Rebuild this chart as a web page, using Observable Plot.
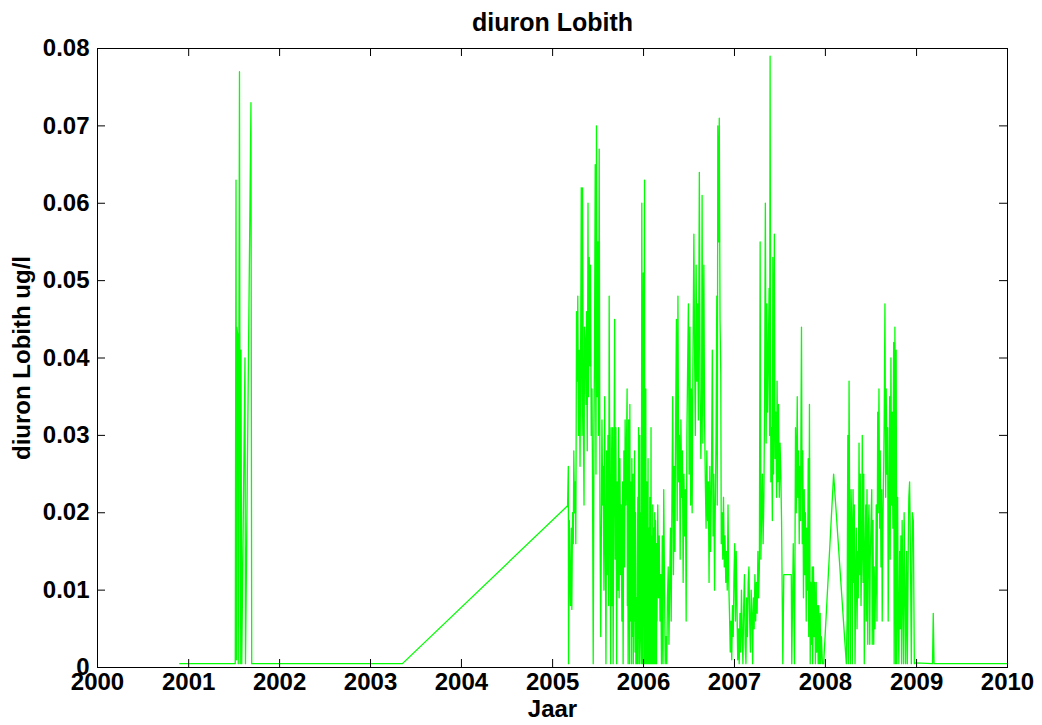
<!DOCTYPE html>
<html>
<head>
<meta charset="utf-8">
<script src="https://cdn.jsdelivr.net/npm/d3@7"></script>
<script src="https://cdn.jsdelivr.net/npm/@observablehq/plot@0.6"></script>
<style>
  html, body { margin: 0; padding: 0; background: #fff; }
</style>
</head>
<body>
<div id="chart"></div>
<script>
// Labels and axis ticks
const title = "diuron Lobith";
const xLabel = "Jaar";
const yLabel = "diuron Lobith ug/l";
const yearTicks = [2000, 2001, 2002, 2003, 2004, 2005, 2006, 2007, 2008, 2009, 2010];
const valueTicks = [0, 0.01, 0.02, 0.03, 0.04, 0.05, 0.06, 0.07, 0.08];

// Diuron at Lobith (ug/l): sample day of year and measured concentration, per year
const days2000 = [330];
const vals2000 = [0.0005];

const days2001 = [187, 190, 192, 193, 197, 199, 204, 207, 210, 213, 226, 228, 250, 253];
const vals2001 = [0.0005, 0.063, 0.001, 0.044, 0.043, 0.0005, 0.077, 0.0005, 0.041, 0.0005, 0.040, 0.0005, 0.073, 0.0005];

const days2003 = [128];
const vals2003 = [0.0005];

const days2005 = [
  60, 63, 64, 67, 69, 72, 75, 77, 80, 83,
  85, 88, 91, 93, 96, 99, 101, 104, 107, 110,
  112, 115, 118, 120, 123, 126, 128, 131, 134, 136,
  139, 142, 144, 147, 150, 152, 155, 158, 160, 163,
  166, 168, 171, 174, 176, 179, 182, 184, 187, 190,
  193, 195, 198, 201, 203, 206, 209, 211, 214, 217,
  219, 222, 225, 227, 230, 233, 235, 238, 241, 243,
  246, 249, 251, 254, 257, 259, 262, 265, 267, 270,
  273, 275, 278, 281, 283, 286, 289, 291, 294,
  297, 299, 300, 302, 303, 305, 306, 307, 309, 310,
  311, 313, 314, 315, 317, 318, 319, 321, 322, 323,
  324, 326, 327, 329, 330, 331, 333, 334, 336, 337,
  339, 340, 342, 343, 345, 346, 347, 349, 350, 351,
  353, 354, 356, 358, 361, 364
];
const vals2005 = [
  0.0209, 0.026, 0.0005, 0.019, 0.012, 0.008, 0.018, 0.0075, 0.020, 0.016,
  0.028, 0.020, 0.024, 0.016, 0.046, 0.037, 0.048, 0.030, 0.041, 0.026,
  0.037, 0.062, 0.030, 0.062, 0.034, 0.021, 0.044, 0.042, 0.034, 0.046,
  0.028, 0.060, 0.035, 0.053, 0.039, 0.052, 0.030, 0.036, 0.025, 0.0005,
  0.031, 0.040, 0.065, 0.025, 0.070, 0.035, 0.055, 0.030, 0.067, 0.020,
  0.004, 0.014, 0.032, 0.021, 0.026, 0.010, 0.035, 0.020, 0.0005, 0.028,
  0.012, 0.030, 0.008, 0.048, 0.018, 0.0005, 0.031, 0.008, 0.031, 0.0005,
  0.025, 0.045, 0.014, 0.031, 0.0005, 0.024, 0.010, 0.031, 0.009, 0.027,
  0.012, 0.021, 0.006, 0.024, 0.0005, 0.028, 0.013, 0.032, 0.021,
  0.030, 0.036, 0.008, 0.015, 0.0005, 0.032, 0.011, 0.020, 0.0005, 0.034,
  0.016, 0.024, 0.006, 0.020, 0.0005, 0.027, 0.012, 0.018, 0.004, 0.025,
  0.0005, 0.014, 0.006, 0.028, 0.016, 0.002, 0.020, 0.0005, 0.0005, 0.009,
  0.0005, 0.012, 0.022, 0.0005, 0.031, 0.006, 0.014, 0.0005, 0.030, 0.008,
  0.020, 0.004, 0.0005, 0.060, 0.0005, 0.051
];

const days2006 = [
  1, 2, 4, 5, 6, 7, 8, 9, 10, 11,
  12, 13, 14, 15, 16, 17, 18, 19, 20, 21,
  22, 23, 24, 25, 26, 27, 28, 29, 30, 31,
  32, 33, 34, 35, 36, 37, 38, 39, 40, 41,
  42, 43, 44, 45, 46, 47, 48, 49, 50, 51,
  52, 53, 54, 55, 57, 60, 63,
  66, 69, 72, 75, 78, 81, 84, 87, 90, 93,
  96, 99, 102, 105, 108, 111, 114, 117, 120, 123,
  126, 129, 132, 135, 138, 141, 144, 147, 150, 153,
  156, 159, 162, 165, 168, 171, 174, 177, 180, 183,
  186, 189, 192, 195, 198, 202, 205, 208, 211, 214,
  217, 220, 224, 227, 230, 233, 235, 238, 242, 245,
  248, 251, 254, 257, 260, 263, 266, 269, 272, 276,
  279, 282, 285, 288, 291, 294, 296, 298, 301, 304,
  307, 310, 312, 315, 318, 321, 324, 327, 330, 333,
  336, 339, 342, 345, 348, 351, 354, 357, 360, 363
];
const vals2006 = [
  0.012, 0.0005, 0.063, 0.0005, 0.017, 0.004, 0.020, 0.036, 0.0005, 0.019,
  0.0005, 0.024, 0.006, 0.0005, 0.021, 0.004, 0.027, 0.0005, 0.015, 0.0005,
  0.018, 0.010, 0.0005, 0.022, 0.008, 0.0005, 0.020, 0.0005, 0.031, 0.002,
  0.017, 0.0005, 0.016, 0.004, 0.0005, 0.021, 0.006, 0.0005, 0.018, 0.0005,
  0.018, 0.008, 0.0005, 0.020, 0.003, 0.0005, 0.019, 0.0005, 0.015, 0.003,
  0.0005, 0.016, 0.006, 0.011, 0.021, 0.009, 0.017,
  0.006, 0.012, 0.0005, 0.017, 0.0005, 0.023, 0.011, 0.0005, 0.004, 0.0005,
  0.009, 0.013, 0.003, 0.011, 0.018, 0.006, 0.022, 0.035, 0.012, 0.026,
  0.015, 0.033, 0.045, 0.019, 0.048, 0.024, 0.030, 0.014, 0.032, 0.022,
  0.028, 0.011, 0.025, 0.017, 0.023, 0.006, 0.030, 0.039, 0.047, 0.025,
  0.044, 0.021, 0.036, 0.020, 0.038, 0.056, 0.040, 0.030, 0.052, 0.037,
  0.047, 0.032, 0.064, 0.036, 0.027, 0.034, 0.061, 0.029, 0.052, 0.032,
  0.024, 0.018, 0.028, 0.019, 0.024, 0.011, 0.026, 0.015, 0.022, 0.041,
  0.017, 0.025, 0.010, 0.021, 0.030, 0.048, 0.021, 0.070, 0.055, 0.071,
  0.045, 0.038, 0.016, 0.020, 0.014, 0.022, 0.013, 0.017, 0.011, 0.015,
  0.010, 0.021, 0.011, 0.007, 0.002, 0.006, 0.001, 0.008, 0.004, 0.012
];

const days2007 = [
  1, 4, 7, 10, 13, 16, 19, 22, 25, 28,
  31, 34, 37, 40, 43, 46, 49, 52, 55, 58,
  61, 64, 67, 70, 73, 76, 79, 82, 85, 88,
  91, 94, 97, 100, 103, 106, 109, 112, 115, 118,
  121, 124, 127, 130, 133, 136, 139, 141, 143, 146,
  149, 152, 154, 157, 160, 163, 166, 169, 171, 174,
  177, 180, 183, 186, 189, 194, 198, 228, 230, 236,
  241, 245, 248, 252, 254, 257, 260, 262, 265, 269,
  272, 274, 277, 280, 282, 285, 288, 290, 293, 296,
  298, 301, 304, 306, 309, 312, 314, 317, 320, 322,
  325, 328, 330, 333, 336, 338, 341, 344, 346, 349,
  353, 358
];
const vals2007 = [
  0.016, 0.006, 0.015, 0.008, 0.001, 0.005, 0.0005, 0.007, 0.002, 0.010,
  0.004, 0.0005, 0.008, 0.012, 0.003, 0.0005, 0.009, 0.004, 0.011, 0.013,
  0.006, 0.002, 0.010, 0.007, 0.0005, 0.009, 0.005, 0.012, 0.006, 0.011,
  0.007, 0.015, 0.009, 0.013, 0.055, 0.014, 0.020, 0.025, 0.016, 0.022,
  0.035, 0.060, 0.029, 0.047, 0.033, 0.041, 0.049, 0.030, 0.079, 0.024,
  0.031, 0.019, 0.053, 0.025, 0.056, 0.027, 0.033, 0.022, 0.037, 0.024,
  0.034, 0.022, 0.029, 0.025, 0.019, 0.0005, 0.012, 0.012, 0.0005, 0.016,
  0.0005, 0.031, 0.020, 0.035, 0.022, 0.028, 0.016, 0.026, 0.019, 0.044,
  0.016, 0.028, 0.009, 0.023, 0.012, 0.020, 0.006, 0.018, 0.010, 0.027,
  0.004, 0.034, 0.0005, 0.011, 0.003, 0.013, 0.0005, 0.013, 0.004, 0.011,
  0.0005, 0.011, 0.002, 0.008, 0.0005, 0.008, 0.0005, 0.007, 0.0005, 0.004,
  0.0005, 0.0005
];

const days2008 = [
  33, 84, 87, 90, 92, 95, 98, 100, 103, 106,
  108, 111, 114, 116, 119, 122, 124, 127, 130, 132,
  135, 138, 140, 143, 146, 148, 151, 154, 156, 159,
  162, 164, 167, 170, 172, 175, 178, 180, 186, 188,
  191, 194, 196, 199, 202, 204, 207, 210, 212, 215,
  218, 220, 223, 226, 228, 231, 234, 236, 239, 242,
  244, 247, 250, 252, 255, 258, 260, 263, 266, 268,
  271, 274, 276, 279, 282, 284, 287, 290, 292, 295,
  298, 300, 303, 306, 308, 311, 314, 316, 319, 322,
  326, 329, 333, 335, 338, 341, 345, 349, 353, 357,
  361
];
const vals2008 = [
  0.025, 0.0005, 0.006, 0.030, 0.0005, 0.037, 0.015, 0.0005, 0.023, 0.018,
  0.0005, 0.023, 0.011, 0.021, 0.0005, 0.013, 0.018, 0.005, 0.015, 0.009,
  0.029, 0.012, 0.025, 0.008, 0.016, 0.030, 0.011, 0.025, 0.0005, 0.014,
  0.021, 0.006, 0.023, 0.003, 0.017, 0.021, 0.003, 0.014, 0.023, 0.003,
  0.019, 0.003, 0.013, 0.005, 0.012, 0.021, 0.006, 0.033, 0.020, 0.036,
  0.018, 0.028, 0.013, 0.023, 0.006, 0.019, 0.026, 0.032, 0.047, 0.022,
  0.036, 0.025, 0.031, 0.006, 0.020, 0.035, 0.014, 0.040, 0.021, 0.033,
  0.018, 0.042, 0.0005, 0.044, 0.0005, 0.041, 0.0005, 0.022, 0.007, 0.0005,
  0.015, 0.005, 0.017, 0.0005, 0.019, 0.010, 0.0005, 0.020, 0.012, 0.0005,
  0.015, 0.0005, 0.017, 0.022, 0.024, 0.016, 0.0005, 0.020, 0.019, 0.0005,
  0.0006
];

const days2009 = [64, 67, 70, 365];
const vals2009 = [0.0005, 0.007, 0.0005, 0.0005];

// Combine the per-year arrays into one dated series
const yearly = [
  [2000, days2000, vals2000],
  [2001, days2001, vals2001],
  [2003, days2003, vals2003],
  [2005, days2005, vals2005],
  [2006, days2006, vals2006],
  [2007, days2007, vals2007],
  [2008, days2008, vals2008],
  [2009, days2009, vals2009]
];
const series = yearly.flatMap(([year, days, vals]) => {
  if (days.length !== vals.length) console.warn("length mismatch", year, days.length, vals.length);
  return days.map((d, i) => ({date: new Date(Date.UTC(year, 0, 1 + d)), value: vals[i]}));
});

const tickDates = yearTicks.map((y) => new Date(Date.UTC(y, 0, 1)));

// Layout
const W = 1042, H = 725;
const M = {top: 48, right: 35, bottom: 58, left: 97};
const frameW = W - M.left - M.right;
const frameH = H - M.top - M.bottom;
const tickLen = 8;
const fontFamily = "'Liberation Sans', Arial, Helvetica, sans-serif";
const tickFont = 24;
const labelFont = 24;
const titleFont = 25;

const chart = Plot.plot({
  width: W,
  height: H,
  marginTop: M.top,
  marginRight: M.right,
  marginBottom: M.bottom,
  marginLeft: M.left,
  x: {type: "utc", domain: [tickDates[0], tickDates[tickDates.length - 1]]},
  y: {domain: [0, 0.08]},
  style: {fontFamily, fontSize: `${tickFont}px`, fontWeight: "bold", background: "#fff", color: "#000"},
  marks: [
    Plot.line(series, {x: "date", y: "value", stroke: "#00ff00", strokeWidth: 1.3}),
    Plot.frame({stroke: "#000", strokeWidth: 1}),
    // inward ticks on all four sides
    Plot.tickX(tickDates, {x: (d) => d, insetTop: frameH - tickLen, stroke: "#000"}),
    Plot.tickX(tickDates, {x: (d) => d, insetBottom: frameH - tickLen, stroke: "#000"}),
    Plot.tickY(valueTicks, {y: (d) => d, insetRight: frameW - tickLen, stroke: "#000"}),
    Plot.tickY(valueTicks, {y: (d) => d, insetLeft: frameW - tickLen, stroke: "#000"}),
    Plot.axisX(tickDates, {
      tickSize: 0, tickPadding: 5, label: null,
      tickFormat: (d) => String(d.getUTCFullYear()),
      fontSize: tickFont, fontWeight: "bold"
    }),
    Plot.axisY(valueTicks, {
      tickSize: 0, tickPadding: 8, label: null,
      tickFormat: (d) => (d === 0 ? "0" : d.toFixed(2)),
      fontSize: tickFont, fontWeight: "bold"
    }),
    Plot.text([title], {text: (d) => d, frameAnchor: "top", dy: -26, lineAnchor: "middle", fontSize: titleFont, fontWeight: "bold"}),
    Plot.text([xLabel], {text: (d) => d, frameAnchor: "bottom", dy: 42, lineAnchor: "middle", fontSize: labelFont, fontWeight: "bold"}),
    Plot.text([yLabel], {text: (d) => d, frameAnchor: "left", dx: -75, rotate: -90, textAnchor: "middle", lineAnchor: "middle", fontSize: labelFont, fontWeight: "bold"})
  ]
});

document.getElementById("chart").appendChild(chart);
</script>
</body>
</html>
